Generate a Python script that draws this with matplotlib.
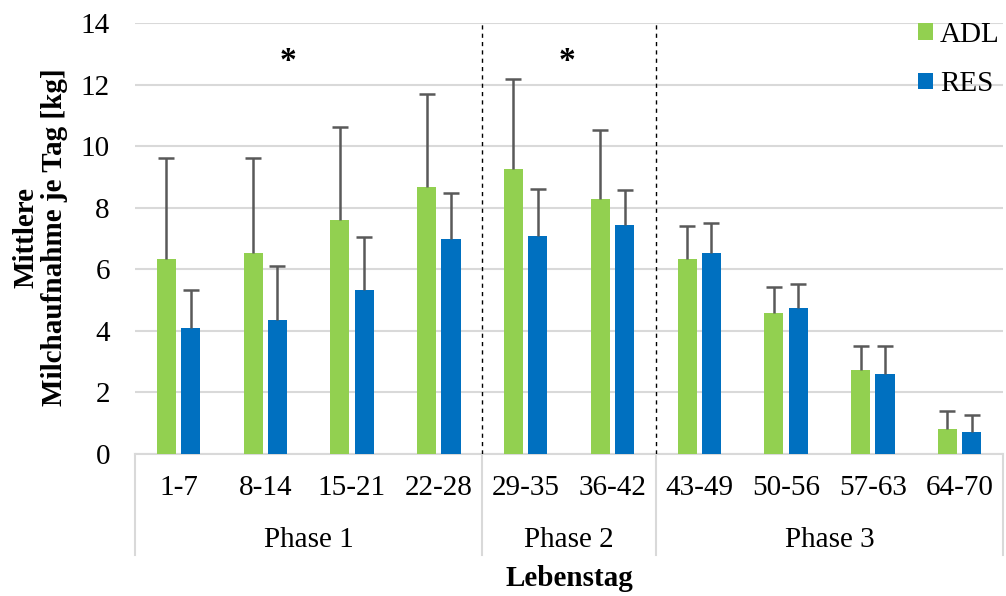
import matplotlib
matplotlib.use("Agg")
import matplotlib.pyplot as plt
import numpy as np
from matplotlib.lines import Line2D

categories = ["1-7", "8-14", "15-21", "22-28", "29-35", "36-42", "43-49", "50-56", "57-63", "64-70"]
adl = [6.33, 6.52, 7.6, 8.66, 9.25, 8.28, 6.34, 4.59, 2.72, 0.80]
adl_err = [3.27, 3.08, 3.02, 3.02, 2.94, 2.25, 1.07, 0.84, 0.79, 0.61]
res = [4.08, 4.35, 5.32, 7.0, 7.08, 7.44, 6.52, 4.73, 2.61, 0.70]
res_err = [1.24, 1.75, 1.73, 1.49, 1.54, 1.15, 0.99, 0.80, 0.90, 0.57]
phases = ["Phase 1", "Phase 2", "Phase 3"]
phase_sizes = [4, 2, 4]
star_positions = [1.26, 4.48]
star_y = 12.75

plt.rcParams['font.family'] = ['Liberation Serif', 'DejaVu Serif']
FS = 21

fig = plt.figure(figsize=(10.06, 5.96), dpi=100)
ax = fig.add_axes([135/1006, (596-454)/596, (1003-135)/1006, (454-23)/596])

x = np.arange(len(categories))
w = 0.22
off = 0.14
green = "#92D050"
blue = "#0070C0"
ecol = "#595959"
ax.bar(x - off, adl, w, color=green, label="ADL", zorder=3)
ax.bar(x + off, res, w, color=blue, label="RES", zorder=3)

def upper_err(xs, ys, errs):
    ys = np.asarray(ys)
    tops = ys + np.asarray(errs)
    ax.vlines(xs, ys, tops, color=ecol, linewidth=1.8, zorder=4)
    ax.plot(xs, tops, linestyle="none", marker="_", markersize=12, markeredgewidth=1.8,
            color=ecol, zorder=4)

upper_err(x - off, adl, adl_err)
upper_err(x + off, res, res_err)

ax.set_xlim(-0.5, len(categories) - 0.5)
ax.set_ylim(0, 14)
ax.set_yticks(np.arange(0, 15, 2))
ax.tick_params(axis='y', length=0, labelsize=FS, pad=18)
ax.yaxis.grid(True, color="#D9D9D9", linewidth=1.5, zorder=0)
ax.set_axisbelow(True)
for s in ["left", "right", "top"]:
    ax.spines[s].set_visible(False)
ax.spines["bottom"].set_color("#D9D9D9")
ax.spines["bottom"].set_linewidth(1.5)
ax.set_xticks([])

trans = ax.get_xaxis_transform()
for i, c in enumerate(categories):
    ax.text(i, -34/431, c, transform=trans, ha="center", va="center", fontsize=FS)

bounds = np.concatenate([[0], np.cumsum(phase_sizes)]) - 0.5
for b in bounds:
    ax.add_line(Line2D([b, b], [0, -(555-454)/431], transform=trans, color="#D9D9D9",
                       linewidth=1.5, clip_on=False))
for p, a, b in zip(phases, bounds[:-1], bounds[1:]):
    ax.text((a + b) / 2, -(540-454)/431, p, transform=trans, ha="center", va="center", fontsize=FS)

for b in bounds[1:-1]:
    ax.axvline(b, ymin=0, ymax=1.0, color="black", linestyle=(0, (3, 3)), linewidth=1.0, zorder=5)

for sx in star_positions:
    ax.text(sx, star_y, "*", ha="center", va="center", fontsize=FS + 3, fontweight="bold")

leg = fig.legend(*ax.get_legend_handles_labels(), loc="upper left",
                 bbox_to_anchor=(918/1006, (596-22)/596), frameon=False, fontsize=FS,
                 borderpad=0, borderaxespad=0,
                 handlelength=0.5, handleheight=0.5, handletextpad=0.25, labelspacing=0.8)

fig.text(40/1006, (596-237)/596, "Mittlere\nMilchaufnahme je Tag [kg]", rotation=90,
         ha="center", va="center", fontsize=FS, fontweight="bold", multialignment="center",
         linespacing=1.05)
fig.text((135+1003)/2/1006, (596-578)/596, "Lebenstag", ha="center", va="center",
         fontsize=FS, fontweight="bold")

fig.savefig("out.png", dpi=100)
